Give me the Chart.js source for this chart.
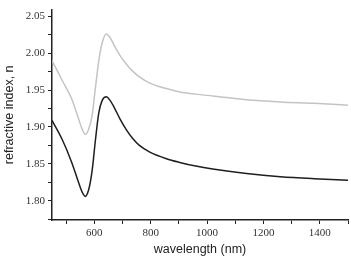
<!DOCTYPE html>
<html>
<head>
<meta charset="utf-8">
<script src="https://cdn.jsdelivr.net/npm/chart.js@4/dist/chart.umd.min.js"></script>
<style>
  html, body { margin: 0; padding: 0; background: #fff; }
  #wrap { width: 351px; height: 261px; position: relative; }
</style>
</head>
<body>
<div id="wrap"><canvas id="c"></canvas></div>
<script>
// wavelength (nm)
const wavelength = [450, 485, 520, 545, 558, 568, 580, 592, 604, 616, 628, 643, 656, 670, 691, 714, 735, 760, 797, 856, 903, 960, 1020, 1140, 1260, 1380, 1500];
// refractive index, grey curve
const greyN  = [1.990, 1.964, 1.938, 1.910, 1.896, 1.890, 1.897, 1.915, 1.953, 1.990, 2.014, 2.026, 2.021, 2.011, 1.997, 1.985, 1.976, 1.968, 1.9595, 1.952, 1.9475, 1.9445, 1.942, 1.937, 1.934, 1.932, 1.9295];
// refractive index, black curve
const blackN = [1.909, 1.884, 1.852, 1.824, 1.811, 1.806, 1.815, 1.840, 1.882, 1.919, 1.936, 1.941, 1.936, 1.927, 1.911, 1.896, 1.885, 1.875, 1.866, 1.857, 1.852, 1.847, 1.843, 1.837, 1.8327, 1.830, 1.828];
// tick labels
const xTickLabels = [600, 800, 1000, 1200, 1400];
const yTickLabels = [1.80, 1.85, 1.90, 1.95, 2.00, 2.05];

const toPts = arr => arr.map((v, i) => ({ x: wavelength[i], y: v }));
const tickFont = { family: '"Liberation Serif", "Times New Roman", serif', size: 11 };
const titleFont = { family: '"Liberation Sans", Arial, sans-serif', size: 12.5 };

new Chart(document.getElementById('c'), {
  type: 'line',
  data: {
    datasets: [
      { data: toPts(greyN), borderColor: '#c4c4c4', borderWidth: 1.5, pointRadius: 0, cubicInterpolationMode: 'monotone', fill: false },
      { data: toPts(blackN), borderColor: '#1e1e1e', borderWidth: 1.5, pointRadius: 0, cubicInterpolationMode: 'monotone', fill: false }
    ]
  },
  options: {
    responsive: true,
    maintainAspectRatio: false,
    animation: false,
    layout: { padding: { top: 5, right: 3, left: 0, bottom: 0 } },
    plugins: { legend: { display: false }, tooltip: { enabled: false } },
    scales: {
      x: {
        type: 'linear',
        min: 450, max: 1500,
        afterBuildTicks: s => { s.ticks = []; for (let v = 500; v <= 1500; v += 100) s.ticks.push({ value: v }); },
        afterFit: s => { s.height = 41; },
        ticks: {
          font: tickFont, color: '#333', padding: 3, maxRotation: 0, autoSkip: false,
          callback: v => xTickLabels.includes(v) ? String(v) : ''
        },
        grid: { drawOnChartArea: false, drawTicks: true, tickLength: 4, tickColor: '#222', tickWidth: 1 },
        border: { display: true, color: '#222', width: 1.5 },
        title: { display: true, text: 'wavelength (nm)', font: titleFont, color: '#222', padding: { top: 2, bottom: 4 } }
      },
      y: {
        type: 'linear',
        min: 1.774, max: 2.059,
        afterBuildTicks: s => { s.ticks = []; for (let k = 0; k <= 11; k++) s.ticks.push({ value: Math.round((1.775 + k * 0.025) * 1000) / 1000 }); },
        afterFit: s => { s.width = 52; },
        ticks: {
          font: tickFont, color: '#333', padding: 3, autoSkip: false,
          callback: v => yTickLabels.some(t => Math.abs(t - v) < 1e-6) ? v.toFixed(2) : ''
        },
        grid: { drawOnChartArea: false, drawTicks: true, tickLength: 4, tickColor: '#222', tickWidth: 1 },
        border: { display: true, color: '#222', width: 1.5 },
        title: { display: true, text: 'refractive index, n', font: titleFont, color: '#222', padding: { top: 2, bottom: 2 } }
      }
    }
  }
});
</script>
</body>
</html>
